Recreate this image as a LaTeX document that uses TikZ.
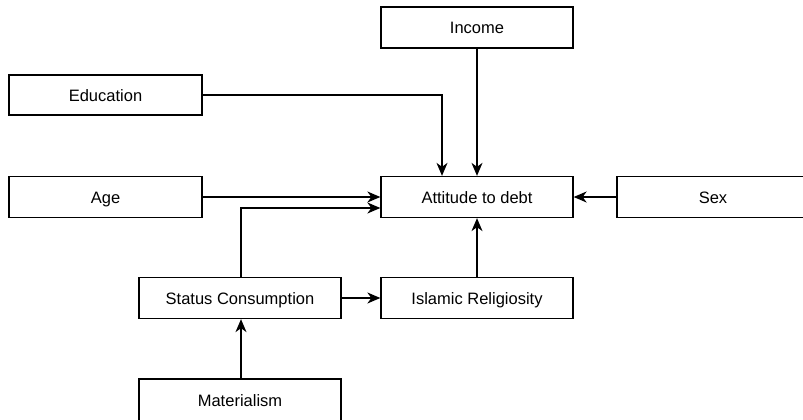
\documentclass[tikz,border=0pt]{standalone}
\usepackage{fontspec}
\setmainfont{Liberation Sans}
\usetikzlibrary{arrows.meta,positioning}

\begin{document}
\begin{tikzpicture}[x=1pt,y=1pt,
        varbox/.style={draw, line width=1.3pt, minimum height=41pt, inner sep=0pt,
            text height=16pt, text depth=3pt, font=\fontsize{16.5}{19}\selectfont},
        link/.style={line width=1.3pt, -{Stealth[length=13pt,width=11pt,inset=4pt]}}]
    % \draw[help lines] (0,-420) grid[step=50] (803,0);
    \useasboundingbox (0,-420) rectangle (803,0);

    \node[varbox, minimum width=192pt] (income) at (477,-27.5) {Income};
    \node[varbox, minimum width=193pt, minimum height=40pt] (education) at (105.5,-95) {Education};
    \node[varbox, minimum width=192pt] (attitude) at (477,-197) {Attitude to debt};
    \node[varbox, minimum width=193pt] (age) at (105.5,-197) {Age};
    \node[varbox, minimum width=192pt] (sex) at (713,-197) {Sex};
    \node[varbox, minimum width=202pt] (status) at (240,-298) {Status Consumption};
    \node[varbox, minimum width=192pt] (religiosity) at (477,-298) {Islamic Religiosity};
    \node[varbox, minimum width=202pt, minimum height=42pt] (materialism) at (240,-400) {Materialism};

    \draw[link] (income.south) -- (income.south |- attitude.north);
    \draw[link] (education.east) -| ([xshift=-35pt]attitude.north);
    \draw[link] (age.east) -- (attitude.west);
    \draw[link] ([xshift=1pt]status.north) |- ([yshift=-11pt]attitude.west);
    \draw[link] (status.east) -- (religiosity.west);
    \draw[link] (religiosity.north) -- (religiosity.north |- attitude.south);
    \draw[link] (sex.west) -- (attitude.east);
    \draw[link] ([xshift=1pt]materialism.north) -- ([xshift=1pt]status.south);
\end{tikzpicture}
\end{document}
